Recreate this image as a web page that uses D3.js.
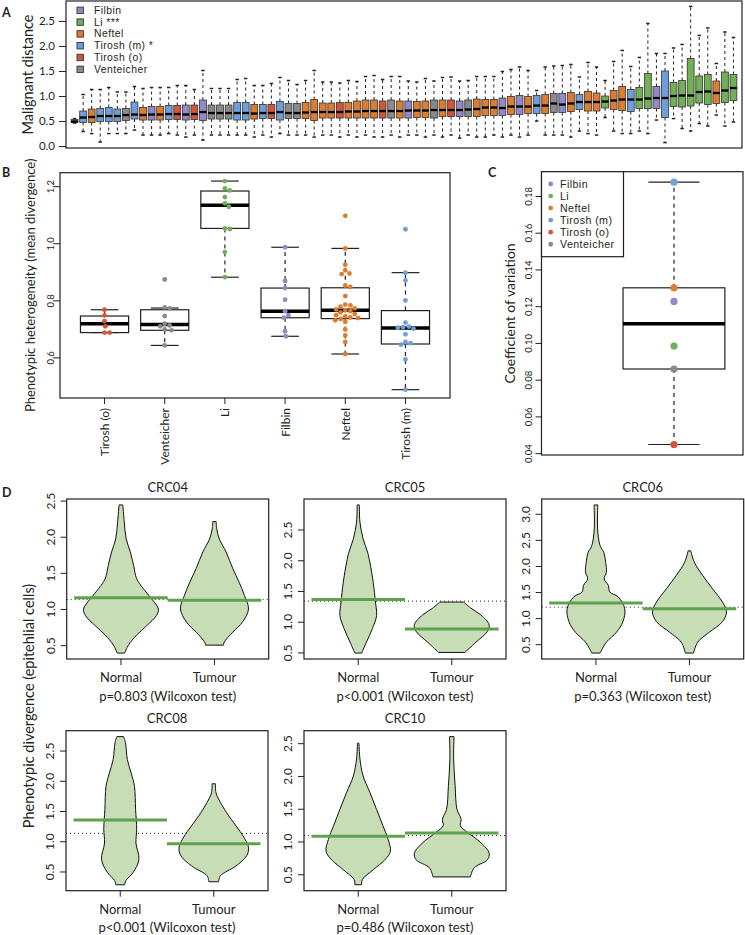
<!DOCTYPE html>
<html><head><meta charset="utf-8">
<script src="https://cdn.jsdelivr.net/npm/d3@7/dist/d3.min.js"></script>
<style>html,body{margin:0;padding:0;background:#fff}svg{display:block}</style>
</head><body>
<svg id="fig" width="745" height="935"></svg>
<script>
// ================= DATA =================
const datasets = ["Filbin", "Li", "Neftel", "Tirosh (m)", "Tirosh (o)", "Venteicher"];
const dsColors = ["#9488c6", "#72b057", "#de7d30", "#6e9fda", "#d2553d", "#8a8a8a"];
const legendA = ["Filbin", "Li ***", "Neftel", "Tirosh (m) *", "Tirosh (o)", "Venteicher"];

// Panel A: one box per sample (dataset index), ordered by median
const aGroup = [5,3,2,3,3,3,5,3,2,0, 2,3,4,0,4,0,5,5,5,3, 3,2,3,4,3,5,5,2,2,2,
  2,4,2,2,2,2,4,5,2,0, 2,2,5,2,4,0,5,2,2,2, 0,2,0,2,3,2,5,0,2,3,
  2,2,1,2,2,3,1,1,0,3, 1,1,1,1,1,2,1,1];
const aLo = [0.46,0.29,0.25,0.08,0.25,0.25,0.25,0.32,0.22,0.22, 0.22,0.25,0.22,0.18,0.22,0.12,0.22,0.22,0.22,0.22,
  0.22,0.18,0.22,0.18,0.25,0.22,0.22,0.22,0.18,0.22, 0.22,0.18,0.22,0.18,0.22,0.18,0.18,0.22,0.18,0.22,
  0.22,0.18,0.22,0.18,0.22,0.16,0.22,0.18,0.18,0.22, 0.18,0.22,0.18,0.22,0.50,0.22,0.22,0.22,0.18,0.30,
  0.25,0.22,0.57,0.30,0.25,0.25,0.30,0.25,0.52,0.07, 0.55,0.35,0.30,0.45,0.40,0.62,0.40,0.48];
const aQ1 = [0.47,0.47,0.47,0.49,0.49,0.49,0.51,0.54,0.52,0.52, 0.52,0.53,0.53,0.52,0.53,0.51,0.54,0.54,0.54,0.52,
  0.52,0.54,0.55,0.55,0.52,0.55,0.55,0.55,0.51,0.56, 0.56,0.56,0.56,0.56,0.56,0.56,0.56,0.56,0.56,0.56,
  0.57,0.57,0.56,0.59,0.59,0.59,0.59,0.59,0.61,0.61, 0.61,0.63,0.63,0.65,0.65,0.65,0.67,0.67,0.69,0.73,
  0.70,0.70,0.76,0.73,0.71,0.69,0.75,0.75,0.75,0.57, 0.79,0.78,0.80,0.86,0.83,0.85,0.87,0.91];
const aMed = [0.49,0.57,0.58,0.60,0.60,0.60,0.62,0.63,0.62,0.63, 0.63,0.64,0.64,0.63,0.64,0.68,0.66,0.66,0.66,0.66,
  0.66,0.65,0.66,0.66,0.68,0.66,0.66,0.67,0.68,0.68, 0.68,0.68,0.69,0.69,0.70,0.70,0.70,0.70,0.70,0.71,
  0.71,0.71,0.72,0.72,0.72,0.72,0.73,0.74,0.77,0.77, 0.76,0.79,0.79,0.79,0.81,0.81,0.85,0.83,0.85,0.88,
  0.88,0.88,0.89,0.91,0.93,0.93,0.93,0.95,0.96,0.96, 1.00,1.01,1.01,1.08,1.09,1.06,1.11,1.16];
const aQ3 = [0.53,0.70,0.74,0.75,0.77,0.74,0.75,0.88,0.77,0.79, 0.79,0.81,0.81,0.82,0.82,0.92,0.82,0.82,0.82,0.87,
  0.87,0.83,0.83,0.83,0.89,0.85,0.85,0.87,0.93,0.86, 0.86,0.87,0.87,0.90,0.92,0.92,0.90,0.92,0.90,0.90,
  0.89,0.90,0.92,0.92,0.92,0.90,0.92,0.94,0.93,0.93, 0.96,0.99,1.01,0.99,1.01,1.03,1.05,1.05,1.07,1.03,
  1.09,1.06,1.00,1.11,1.19,1.13,1.17,1.45,1.19,1.50, 1.27,1.31,1.75,1.40,1.43,1.30,1.48,1.43];
const aHi = [0.55,1.03,1.13,1.13,1.17,1.08,1.08,1.19,1.15,1.17, 1.17,1.17,1.21,1.21,1.13,1.51,1.15,1.15,1.15,1.33,
  1.35,1.21,1.21,1.25,1.37,1.31,1.23,1.31,1.51,1.28, 1.28,1.26,1.31,1.29,1.39,1.41,1.33,1.39,1.39,1.30,
  1.28,1.35,1.30,1.37,1.38,1.30,1.31,1.39,1.39,1.39, 1.49,1.53,1.58,1.51,1.11,1.58,1.60,1.61,1.63,1.38,
  1.67,1.58,1.31,1.69,1.91,1.59,1.77,2.45,1.85,1.85, 1.96,2.03,2.79,2.21,2.36,1.65,2.28,2.17];
const aTicks = [0, 0.5, 1.0, 1.5, 2.0, 2.5];

// Panel B: phenotypic heterogeneity per dataset
const bCats = ["Tirosh (o)", "Venteicher", "Li", "Filbin", "Neftel", "Tirosh (m)"];
const bLo  = [0.687, 0.642, 0.881, 0.674, 0.612, 0.487];
const bQ1  = [0.687, 0.695, 1.052, 0.739, 0.736, 0.647];
const bMed = [0.718, 0.715, 1.133, 0.762, 0.765, 0.703];
const bQ3  = [0.745, 0.767, 1.183, 0.843, 0.844, 0.764];
const bHi  = [0.767, 0.773, 1.218, 0.986, 0.982, 0.897];
const bPoints = [
  [0.767, 0.747, 0.727, 0.709, 0.687, 0.687],
  [0.873, 0.775, 0.772, 0.745, 0.718, 0.712, 0.709, 0.698, 0.695, 0.642],
  [1.218, 1.192, 1.185, 1.162, 1.140, 1.128, 1.052, 1.050, 0.969, 0.881],
  [0.986, 0.868, 0.843, 0.802, 0.762, 0.748, 0.739, 0.692, 0.674],
  [1.096, 0.982, 0.925, 0.905, 0.894, 0.892, 0.852, 0.847, 0.815, 0.785, 0.782, 0.778, 0.772, 0.768, 0.765,
   0.762, 0.758, 0.752, 0.748, 0.744, 0.740, 0.738, 0.735, 0.730, 0.725, 0.698, 0.677, 0.654, 0.612],
  [1.049, 0.897, 0.870, 0.800, 0.722, 0.708, 0.706, 0.704, 0.700, 0.681, 0.654, 0.650, 0.645, 0.593, 0.487]
];
const bTicks = [0.6, 0.8, 1.0, 1.2];

// Panel C: coefficient of variation per dataset (order = datasets)
const cValues = [0.1226, 0.0983, 0.1300, 0.1875, 0.0447, 0.0858];
const cTicks = [0.04, 0.06, 0.08, 0.10, 0.12, 0.14, 0.16, 0.18];

// Panel D: violin profiles [value, relative density]
const dTitles = ["CRC04", "CRC05", "CRC06", "CRC08", "CRC10"];
const dGroups = ["Normal", "Tumour"];
const dPvals = ["p=0.803 (Wilcoxon test)", "p<0.001 (Wilcoxon test)", "p=0.363 (Wilcoxon test)",
                "p<0.001 (Wilcoxon test)", "p=0.486 (Wilcoxon test)"];
const dNormal = [
  [[2.44,0.05],[2.20,0.09],[1.97,0.14],[1.79,0.25],[1.60,0.34],[1.42,0.42],[1.28,0.60],[1.14,0.82],[1.00,1.0],[0.91,0.95],[0.77,0.69],[0.64,0.42],[0.50,0.20],[0.39,0.10]],
  [[2.90,0.03],[2.62,0.045],[2.35,0.13],[2.13,0.25],[1.97,0.31],[1.64,0.40],[1.32,0.46],[1.10,0.49],[0.89,0.38],[0.67,0.22],[0.49,0.09]],
  [[3.17,0.05],[2.71,0.045],[2.39,0.11],[2.26,0.21],[2.07,0.26],[1.88,0.28],[1.75,0.22],[1.63,0.33],[1.50,0.37],[1.41,0.59],[1.18,0.77],[0.93,0.72],[0.73,0.55],[0.54,0.28],[0.33,0.11]],
  [[2.73,0.09],[2.63,0.14],[2.35,0.19],[2.13,0.29],[1.91,0.38],[1.53,0.41],[1.20,0.44],[0.97,0.42],[0.70,0.50],[0.48,0.34],[0.35,0.15],[0.28,0.12]],
  [[2.50,0.02],[2.26,0.045],[2.00,0.13],[1.75,0.31],[1.49,0.49],[1.24,0.66],[1.03,0.80],[0.85,0.86],[0.72,0.71],[0.57,0.40],[0.42,0.11],[0.34,0.09]]
];
const dTumour = [
  [[2.21,0.045],[2.11,0.06],[1.97,0.13],[1.79,0.31],[1.56,0.49],[1.37,0.66],[1.19,0.80],[1.00,0.91],[0.82,0.75],[0.68,0.49],[0.54,0.26],[0.50,0.24]],
  [[1.32,0.32],[1.22,0.51],[1.11,0.78],[0.95,1.0],[0.84,0.95],[0.67,0.65],[0.50,0.35]],
  [[2.29,0.035],[2.07,0.13],[1.82,0.35],[1.56,0.62],[1.31,0.88],[1.12,0.99],[0.93,0.88],[0.73,0.53],[0.54,0.22],[0.33,0.11]],
  [[1.95,0.045],[1.80,0.06],[1.64,0.18],[1.42,0.40],[1.20,0.66],[1.03,0.84],[0.89,0.93],[0.76,0.88],[0.59,0.59],[0.43,0.18],[0.33,0.13]],
  [[2.60,0.06],[2.26,0.05],[1.85,0.09],[1.49,0.14],[1.34,0.25],[1.24,0.23],[1.14,0.42],[0.98,0.78],[0.82,1.0],[0.72,0.95],[0.60,0.60],[0.46,0.50]]
];
const dNormalMean = [1.156, 1.36, 1.29, 1.35, 1.08];
const dTumourMean = [1.12, 0.88, 1.18, 0.96, 1.13];
const dOverallMean = [1.13, 1.335, 1.21, 1.13, 1.09];
const dTicks = [[0.5,1,1.5,2,2.5],[0.5,1,1.5,2,2.5],[0.5,1,1.5,2,2.5,3],[0.5,1,1.5,2,2.5],[0.5,1,1.5,2,2.5]];

// ================= DRAWING =================
const FONT = "Lato, 'Open Sans', 'DejaVu Sans', sans-serif";
const LEGFONT = "'Liberation Sans', Arial, sans-serif";
const INK = "#231f20";
const svg = d3.select("#fig").attr("font-family", FONT);

function frame(g, x0, y0, x1, y1) {
  g.append("rect").attr("x", x0).attr("y", y0).attr("width", x1 - x0).attr("height", y1 - y0)
    .attr("fill", "none").attr("stroke", INK).attr("stroke-width", 1.2);
}
function text(g, x, y, s, size, o = {}) {
  const t = g.append("text").attr("x", x).attr("y", y).text(s).attr("font-size", size).attr("fill", INK)
    .attr("text-anchor", o.anchor || "start");
  if (o.bold) t.attr("font-weight", "bold");
  if (o.rot) t.attr("transform", `rotate(${o.rot},${x},${y})`);
  if (o.base) t.attr("dominant-baseline", o.base);
  if (o.family) t.attr("font-family", o.family);
  if (o.ls) t.attr("letter-spacing", o.ls);
  return t;
}
function leftAxis(g, scale, x, vals, fmt, o) {
  const a = g.append("g").attr("transform", `translate(${x},0)`)
    .call(d3.axisLeft(scale).tickValues(vals).tickFormat(fmt).tickSize(o.tick).tickSizeOuter(0));
  a.attr("font-family", FONT);
  a.select(".domain").remove();
  a.selectAll(".tick line").attr("stroke", INK);
  const t = a.selectAll(".tick text").attr("fill", INK).attr("font-size", o.fs);
  if (o.rot) {
    t.attr("x", null).attr("dy", null).attr("text-anchor", "middle").attr("dominant-baseline", "central")
      .attr("transform", `translate(${-o.off},0) rotate(-90)`);
  } else {
    t.attr("x", -o.off).attr("dy", "0.33em");
  }
}
function boxGlyph(g, cx, half, cap, ys, fill, st) {
  const [lo, q1, med, q3, hi] = ys;
  [[q3, hi], [q1, lo]].forEach(([a, b]) => {
    g.append("line").attr("x1", cx).attr("x2", cx).attr("y1", a).attr("y2", b)
      .attr("stroke", INK).attr("stroke-width", st.wl).attr("stroke-dasharray", st.dash);
    g.append("line").attr("x1", cx - cap).attr("x2", cx + cap).attr("y1", b).attr("y2", b)
      .attr("stroke", INK).attr("stroke-width", st.cl);
  });
  g.append("rect").attr("x", cx - half).attr("y", q3).attr("width", 2 * half).attr("height", Math.max(q1 - q3, 0.5))
    .attr("fill", fill).attr("stroke", st.bc).attr("stroke-width", st.bl);
  g.append("line").attr("x1", cx - half).attr("x2", cx + half).attr("y1", med).attr("y2", med)
    .attr("stroke", "#000").attr("stroke-width", st.ml);
}
function padDomain(vals) {
  const e = d3.extent(vals), p = 0.04 * (e[1] - e[0]);
  return [e[0] - p, e[1] + p];
}

// ---------- Panel A ----------
(function () {
  const L = 66, R = 742, T = 1, B = 148;
  const g = svg.append("g");
  const x = d3.scaleLinear().domain([0, aGroup.length + 1]).range([L, R]);
  const y = d3.scaleLinear().domain(padDomain(aLo.concat(aHi))).range([B, T]);
  const unit = x(1) - x(0);
  aGroup.forEach((gi, i) => {
    boxGlyph(g, x(i + 1), unit * 0.4, unit * 0.2,
      [y(aLo[i]), y(aQ1[i]), y(aMed[i]), y(aQ3[i]), y(aHi[i])], dsColors[gi],
      { wl: 1, dash: "3,3", cl: 1.5, bc: "#333", bl: 0.8, ml: 2.3 });
  });
  frame(g, L, T, R, B);
  leftAxis(g, y, L, aTicks, d3.format(".1f"), { tick: 7, fs: 11.5, off: 11 });
  text(g, 27, (T + B) / 2, "Malignant distance", 14.5, { anchor: "middle", rot: -90, base: "central" });
  text(g, 2, 17, "A", 12.5, { bold: true });
  legendA.forEach((s, i) => {
    const yy = 10.3 + i * 11.8;
    g.append("rect").attr("x", 77).attr("y", yy - 3.2).attr("width", 6.4).attr("height", 6.4)
      .attr("fill", dsColors[i]).attr("stroke", "#333").attr("stroke-width", 0.9);
    text(g, 94, yy, s, 10.4, { base: "central", family: LEGFONT, ls: 0.45 });
  });
})();

// ---------- Panel B ----------
(function () {
  const L = 60, R = 450, T = 172.7, B = 398;
  const g = svg.append("g");
  const n = bCats.length;
  const x = d3.scaleLinear().domain([0.5 - 0.04 * n, n + 0.5 + 0.04 * n]).range([L, R]);
  const y = d3.scaleLinear().domain(padDomain(bLo.concat(bHi, bPoints.flat()))).range([B, T]);
  const unit = x(1) - x(0);
  bCats.forEach((c, i) => {
    const cx = x(i + 1);
    boxGlyph(g, cx, unit * 0.4, unit * 0.23,
      [y(bLo[i]), y(bQ1[i]), y(bMed[i]), y(bQ3[i]), y(bHi[i])], "#fff",
      { wl: 1.2, dash: "4,4", cl: 1.2, bc: INK, bl: 1.2, ml: 3.5 });
    // simple beeswarm placement
    const d = 5.2;
    const pts = bPoints[i].map(v => ({ v, y: y(v) })).sort((a, b) => a.y - b.y);
    const placed = [];
    pts.forEach(p => {
      const cands = [0];
      placed.forEach(q => {
        const dy = Math.abs(q.y - p.y);
        if (dy < d) { const dx = Math.sqrt(d * d - dy * dy); cands.push(q.x + dx, q.x - dx); }
      });
      cands.sort((a, b) => Math.abs(a) - Math.abs(b));
      for (const c2 of cands) {
        if (placed.every(q => (q.x - c2) ** 2 + (q.y - p.y) ** 2 >= d * d - 0.01)) { p.x = c2; break; }
      }
      placed.push(p);
    });
    const col = dsColors[datasets.indexOf(c)];
    placed.forEach(p => g.append("circle").attr("cx", cx + p.x).attr("cy", p.y).attr("r", 2.4).attr("fill", col));
    g.append("line").attr("x1", cx).attr("x2", cx).attr("y1", B).attr("y2", B + 6).attr("stroke", INK);
    text(g, cx, B + 10, c, 12, { anchor: "end", rot: -90, base: "central" });
  });
  frame(g, L, T, R, B);
  leftAxis(g, y, L, bTicks, d3.format(".1f"), { tick: 6, fs: 9.5, off: 10, rot: true });
  text(g, 30, (T + B) / 2, "Phenotypic heterogeneity (mean divergence)", 13, { anchor: "middle", rot: -90, base: "central" });
  text(g, 2, 177, "B", 12.5, { bold: true });
})();

// ---------- Panel C ----------
(function () {
  const L = 541.5, R = 743, T = 171.7, B = 455;
  const g = svg.append("g");
  const x = d3.scaleLinear().domain([0.29, 1.37]).range([L, R]);
  const y = d3.scaleLinear().domain(padDomain(cValues)).range([B, T]);
  const s = cValues.slice().sort(d3.ascending);
  const med = d3.median(s);
  const lowHalf = s.slice(0, Math.ceil(s.length / 2)), highHalf = s.slice(Math.floor(s.length / 2));
  const q1 = d3.median(lowHalf), q3 = d3.median(highHalf);
  const iqr = q3 - q1;
  const lo = d3.min(s.filter(v => v >= q1 - 1.5 * iqr)), hi = d3.max(s.filter(v => v <= q3 + 1.5 * iqr));
  const unit = x(1) - x(0);
  const cx = x(1);
  boxGlyph(g, cx, unit * 0.273, unit * 0.137, [y(lo), y(q1), y(med), y(q3), y(hi)], "#fff",
    { wl: 1.2, dash: "4,4", cl: 1.2, bc: INK, bl: 1.2, ml: 3.5 });
  cValues.forEach((v, i) => g.append("circle").attr("cx", cx).attr("cy", y(v)).attr("r", 3.6).attr("fill", dsColors[i]));
  frame(g, L, T, R, B);
  leftAxis(g, y, L, cTicks, d3.format(".2f"), { tick: 6, fs: 9.5, off: 13, rot: true });
  text(g, 510, (T + B) / 2, "Coefficient of variation", 14, { anchor: "middle", rot: -90, base: "central" });
  text(g, 488, 177, "C", 12.5, { bold: true });
  // legend
  g.append("rect").attr("x", L).attr("y", T).attr("width", 82).attr("height", 85)
    .attr("fill", "#fff").attr("stroke", INK).attr("stroke-width", 1.2);
  datasets.forEach((d, i) => {
    const yy = 184 + i * 12.05;
    g.append("circle").attr("cx", 550.7).attr("cy", yy).attr("r", 2.4).attr("fill", dsColors[i]);
    text(g, 560, yy, d, 10.6, { base: "central", family: LEGFONT, ls: 0.45 });
  });
})();

// ---------- Panel D ----------
(function () {
  const frames = [[66.7, 499], [304, 499], [541.7, 499], [66, 730.7], [304, 730.7]];
  const W = 202, H = 160;
  const green = "#5fa24e", fill = "#c6ddb5";
  dTitles.forEach((title, k) => {
    const [X0, Y0] = frames[k];
    const g = svg.append("g");
    const x = d3.scaleLinear().domain([0.42, 2.58]).range([X0, X0 + W]);
    const y = d3.scaleLinear().domain(padDomain(dNormal[k].concat(dTumour[k]).map(p => p[0]))).range([Y0 + H, Y0]);
    g.append("line").attr("x1", X0).attr("x2", X0 + W).attr("y1", y(dOverallMean[k])).attr("y2", y(dOverallMean[k]))
      .attr("stroke", INK).attr("stroke-width", 1).attr("stroke-dasharray", "1,3");
    [dNormal[k], dTumour[k]].forEach((prof, j) => {
      const c = j + 1;
      const area = d3.area().y(p => y(p[0])).x0(p => x(c - p[1] * 0.4)).x1(p => x(c + p[1] * 0.4))
        .curve(d3.curveCatmullRom);
      g.append("path").attr("d", area(prof)).attr("fill", fill).attr("stroke", "#111").attr("stroke-width", 1);
    });
    [dNormalMean[k], dTumourMean[k]].forEach((m, j) => {
      g.append("line").attr("x1", x(j + 0.5)).attr("x2", x(j + 1.5)).attr("y1", y(m)).attr("y2", y(m))
        .attr("stroke", green).attr("stroke-width", 3);
    });
    frame(g, X0, Y0, X0 + W, Y0 + H);
    leftAxis(g, y, X0, dTicks[k], d3.format(".1f"), { tick: 6, fs: 12, off: 16.5, rot: true });
    dGroups.forEach((lab, j) => {
      const cx = x(j + 1);
      g.append("line").attr("x1", cx).attr("x2", cx).attr("y1", Y0 + H).attr("y2", Y0 + H + 6).attr("stroke", INK);
      text(g, cx, Y0 + H + 23, lab, 13, { anchor: "middle" });
    });
    text(g, X0 + W / 2, Y0 + H + 41.5, dPvals[k], 13, { anchor: "middle" });
    text(g, X0 + W / 2, Y0 - 7.5, title, 13, { anchor: "middle" });
  });
  const g = svg.append("g");
  text(g, 28, 706, "Phenotypic divergence (epitehlial cells)", 14.5, { anchor: "middle", rot: -90, base: "central" });
  text(g, 2, 497, "D", 12.5, { bold: true });
})();
</script>
</body></html>
